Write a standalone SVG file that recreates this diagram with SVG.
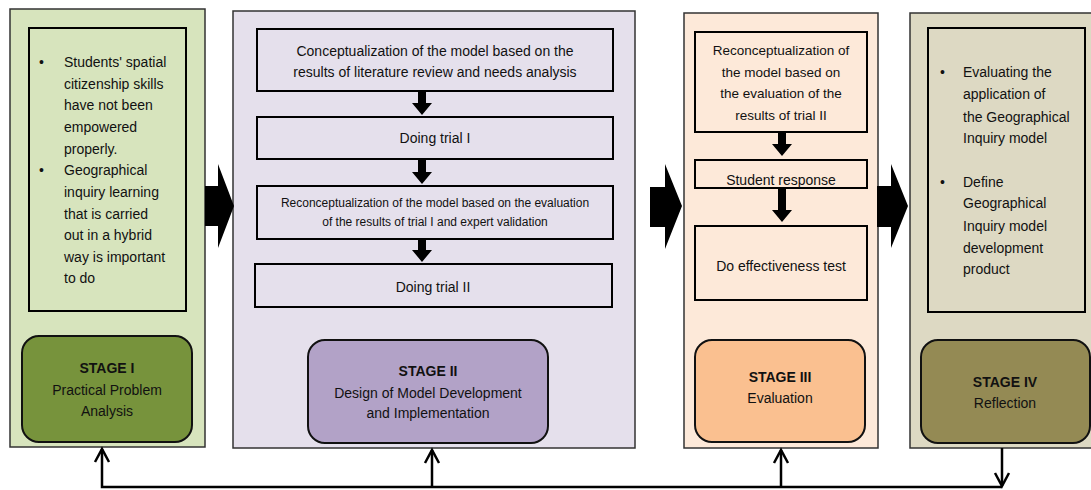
<svg xmlns="http://www.w3.org/2000/svg" width="1091" height="490" viewBox="0 0 1091 490">
<style>
text{font-family:"Liberation Sans",Arial,sans-serif;font-size:14px;fill:#111}
.c{text-anchor:middle}
.b{font-weight:bold}
.sm{font-size:12px}
.s3{font-size:13.5px}
.panel{stroke:#333;stroke-width:1.5}
.box{fill:none;stroke:#000;stroke-width:2}
.lab{stroke:#111;stroke-width:2}
.big{fill:#000}
.fb{fill:none;stroke:#000;stroke-width:2.5}
</style>
<rect width="1091" height="490" fill="#fff"/>
<g id="stage1">
<rect class="panel" x="10" y="9" width="195" height="438" fill="#d7e4bd"/>
<rect class="box" x="29" y="28" width="157" height="283"/>
<text x="39" y="67">•</text>
<text x="64" y="67">Students' spatial</text>
<text x="64" y="88.5">citizenship skills</text>
<text x="64" y="110">have not been</text>
<text x="64" y="132">empowered</text>
<text x="64" y="153.5">properly.</text>
<text x="39" y="175">•</text>
<text x="64" y="175">Geographical</text>
<text x="64" y="197">inquiry learning</text>
<text x="64" y="218.5">that is carried</text>
<text x="64" y="240">out in a hybrid</text>
<text x="64" y="262">way is important</text>
<text x="64" y="283">to do</text>
<rect class="lab" x="22" y="336" width="170" height="106" rx="17" fill="#77933c"/>
<text class="c b" x="107" y="373">STAGE I</text>
<text class="c" x="107" y="395">Practical Problem</text>
<text class="c" x="107" y="416">Analysis</text>
</g>
<g id="stage2">
<rect class="panel" x="233" y="11" width="402" height="437" fill="#e5e0ec"/>
<rect class="box" x="257" y="29" width="356" height="62"/>
<text class="c" x="435" y="56">Conceptualization of the model based on the</text>
<text class="c" x="435" y="77">results of literature review and needs analysis</text>
<rect class="box" x="257" y="117" width="356" height="42"/>
<text class="c" x="435" y="143">Doing trial I</text>
<rect class="box" x="257" y="186" width="356" height="53"/>
<text class="c sm" x="435" y="207">Reconceptualization of the model based on the evaluation</text>
<text class="c sm" x="435" y="226">of the results of trial I and expert validation</text>
<rect class="box" x="255" y="264" width="357" height="43"/>
<text class="c" x="433" y="292">Doing trial II</text>
<rect class="lab" x="308" y="340" width="240" height="103" rx="17" fill="#b2a2c7"/>
<text class="c b" x="428" y="376">STAGE II</text>
<text class="c" x="428" y="398">Design of Model Development</text>
<text class="c" x="428" y="418">and Implementation</text>
</g>
<g id="stage3">
<rect class="panel" x="684" y="13" width="194" height="435" fill="#fde9d9"/>
<rect class="box" x="695" y="32" width="172" height="100"/>
<text class="c s3" x="781" y="55">Reconceptualization of</text>
<text class="c s3" x="781" y="77">the model based on</text>
<text class="c s3" x="781" y="98">the evaluation of the</text>
<text class="c s3" x="781" y="120">results of trial II</text>
<rect class="box" x="695" y="160" width="172" height="28"/>
<text class="c" x="781" y="185">Student response</text>
<rect class="box" x="695" y="226" width="172" height="74"/>
<text class="c" x="781" y="271">Do effectiveness test</text>
<rect class="lab" x="695" y="340" width="170" height="102" rx="17" fill="#fac090"/>
<text class="c b" x="780" y="382">STAGE III</text>
<text class="c" x="780" y="403">Evaluation</text>
</g>
<g id="stage4">
<rect class="panel" x="910" y="13" width="190" height="435" fill="#ddd9c3"/>
<rect class="box" x="928" y="28" width="157" height="284"/>
<text x="940" y="77">•</text>
<text x="963" y="77">Evaluating the</text>
<text x="963" y="99">application of</text>
<text x="963" y="122">the Geographical</text>
<text x="963" y="143">Inquiry model</text>
<text x="940" y="187">•</text>
<text x="963" y="187">Define</text>
<text x="963" y="208">Geographical</text>
<text x="963" y="231">Inquiry model</text>
<text x="963" y="253">development</text>
<text x="963" y="274">product</text>
<rect class="lab" x="921" y="340" width="169" height="103" rx="17" fill="#948a54"/>
<text class="c b" x="1005" y="387">STAGE IV</text>
<text class="c" x="1005" y="408">Reflection</text>
</g>
<g id="connectors">
<path class="big" d="M205,186 L218,186 L218,164 L234,206 L218,248 L218,226 L205,226 Z"/>
<path class="big" d="M650,187 L665,187 L665,164 L682,206 L665,249 L665,227 L650,227 Z"/>
<path class="big" d="M877,186 L891,186 L891,164 L908,206 L891,248 L891,227 L877,227 Z"/>
<path class="big" d="M418,91 L426,91 L426,103 L432,103 L422,115 L412,103 L418,103 Z"/>
<path class="big" d="M418,159 L426,159 L426,172 L432,172 L422,184 L412,172 L418,172 Z"/>
<path class="big" d="M418,239 L426,239 L426,250 L432,250 L422,262 L412,250 L418,250 Z"/>
<path class="big" d="M778,132 L786,132 L786,144 L792,144 L782,156 L772,144 L778,144 Z"/>
<path class="big" d="M778,188 L786,188 L786,210 L792,210 L782,222 L772,210 L778,210 Z"/>
<path class="fb" d="M102,449 L102,487 L1002,487"/>
<path class="fb" d="M95,462 L102,449 L109,462"/>
<path class="fb" d="M432,487 L432,450"/>
<path class="fb" d="M425,463 L432,450 L439,463"/>
<path class="fb" d="M781,487 L781,450"/>
<path class="fb" d="M774,463 L781,450 L788,463"/>
<path class="fb" d="M1002,448 L1002,486"/>
<path class="fb" d="M995,473 L1002,486 L1009,473"/>
</g>
</svg>
